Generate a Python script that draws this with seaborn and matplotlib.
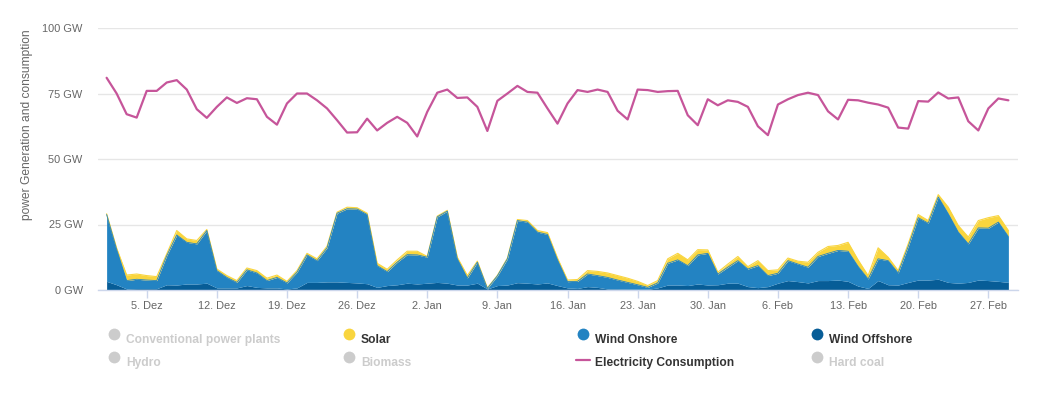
import numpy as np
import pandas as pd
import matplotlib
matplotlib.use("Agg")
import matplotlib.pyplot as plt
import seaborn as sns
from matplotlib.lines import Line2D

# ---------------- data ----------------
dates = pd.date_range("2023-12-01", "2024-02-29", freq="D")

wind_offshore = [3.3, 2.0, 0.4, 0.5, 0.5, 0.5, 2.0, 1.9, 2.3, 2.3,
                 2.6, 0.8, 0.8, 0.8, 1.7, 1.0, 0.8, 0.8, 0.4, 0.8,
                 2.9, 2.9, 3.1, 3.1, 2.9, 2.7, 2.4, 1.0, 1.7, 2.0,
                 2.6, 2.3, 2.6, 2.9, 2.6, 1.9, 1.9, 2.6, 0.4, 1.7,
                 1.9, 2.8, 2.6, 2.3, 2.7, 1.7, 0.8, 0.6, 1.3, 1.0,
                 0.4, 0.4, 0.3, 0.3, 0.3, 0.8, 1.9, 1.9, 1.7, 2.3,
                 1.9, 2.0, 2.6, 2.6, 1.3, 0.9, 1.3, 2.6, 3.6, 3.2,
                 2.7, 3.6, 3.6, 3.8, 3.3, 1.5, 0.6, 3.6, 2.0, 1.9,
                 2.9, 3.8, 3.8, 4.1, 2.9, 2.6, 2.9, 3.8, 3.6, 3.3,
                 2.9]

wind_onshore = [25.5, 13.5, 3.2, 3.6, 3.3, 3.1, 11.1, 19.1, 15.9, 15.3,
                20.1, 6.6, 4.0, 2.1, 6.0, 5.5, 2.8, 4.0, 2.3, 6.0,
                10.5, 8.3, 13.0, 26.2, 28.1, 28.2, 26.4, 8.3, 5.3, 8.6,
                10.9, 11.1, 9.9, 25.0, 27.5, 10.0, 2.7, 8.0, 0.2, 3.7,
                10.0, 23.7, 23.3, 19.8, 18.5, 9.8, 2.4, 2.7, 4.8, 4.5,
                4.4, 3.4, 2.6, 1.7, 0.7, 1.9, 8.3, 9.6, 7.6, 11.1,
                12.1, 4.1, 6.1, 8.6, 6.7, 8.4, 4.2, 3.8, 7.6, 6.7,
                6.0, 9.2, 10.4, 11.3, 11.5, 7.5, 3.6, 8.3, 9.2, 4.6,
                13.7, 23.8, 21.7, 31.4, 26.2, 19.5, 14.7, 19.9, 20.0, 22.6,
                17.5]

solar = [0.3, 0.5, 2.1, 2.0, 1.7, 1.5, 0.7, 1.7, 1.3, 1.3,
         0.4, 0.6, 0.7, 0.7, 0.7, 0.9, 0.9, 0.9, 0.6, 0.6,
         0.6, 0.7, 0.6, 0.4, 0.6, 0.5, 0.5, 0.9, 0.9, 0.9,
         1.3, 1.4, 0.3, 0.3, 0.3, 0.6, 0.9, 0.4, 0.2, 0.2,
         0.3, 0.4, 0.6, 0.6, 0.7, 0.7, 0.6, 0.7, 1.3, 1.6,
         1.7, 1.7, 1.6, 1.3, 0.7, 0.9, 1.7, 2.5, 2.2, 2.0,
         1.3, 0.7, 1.2, 1.6, 0.9, 1.9, 1.9, 1.3, 1.0, 1.1,
         1.9, 1.6, 2.6, 1.9, 3.4, 2.5, 1.3, 4.2, 1.3, 0.9,
         1.0, 1.2, 1.0, 0.9, 2.5, 2.5, 2.6, 2.8, 4.0, 2.5,
         2.3]

consumption = [81.0, 75.0, 67.1, 65.8, 76.0, 76.0, 79.2, 80.1, 76.5, 69.0,
               65.7, 69.9, 73.5, 71.4, 73.2, 72.8, 66.1, 63.1, 71.2, 75.0,
               75.0, 72.4, 69.3, 64.8, 60.1, 60.2, 65.4, 60.9, 63.8, 66.1,
               63.8, 58.6, 68.0, 75.3, 76.5, 73.3, 73.5, 69.9, 60.7, 72.2,
               75.0, 77.9, 75.6, 75.3, 69.3, 63.5, 71.2, 76.3, 75.6, 76.5,
               75.6, 68.4, 65.1, 76.5, 76.3, 75.6, 75.9, 76.0, 66.7, 62.9,
               72.8, 70.5, 72.4, 71.8, 69.9, 62.5, 59.1, 70.8, 72.8, 74.4,
               75.3, 74.4, 68.2, 65.1, 72.6, 72.4, 71.5, 70.8, 69.6, 62.0,
               61.6, 72.1, 71.9, 75.4, 73.1, 73.5, 64.4, 60.9, 69.3, 73.1,
               72.4]

tick_dates = pd.date_range("2023-12-05", "2024-02-27", freq="7D")
tick_labels = ["5. Dez", "12. Dez", "19. Dez", "26. Dez", "2. Jan", "9. Jan",
               "16. Jan", "23. Jan", "30. Jan", "6. Feb", "13. Feb", "20. Feb",
               "27. Feb"]
y_ticks = [0, 25, 50, 75, 100]
y_tick_labels = ["0 GW", "25 GW", "50 GW", "75 GW", "100 GW"]
y_title = "power Generation and consumption"

legend_names = ["Conventional power plants", "Solar", "Wind Onshore", "Wind Offshore",
                "Hydro", "Biomass", "Electricity Consumption", "Hard coal"]
legend_active = [False, True, True, True, False, False, True, False]

# ---------------- style ----------------
C_OFF = "#075d97"
C_ON = "#2383c2"
C_SOL = "#f9d53e"
C_CONS = "#c6559a"
C_HIDDEN = "#cccccc"
legend_colors = [C_HIDDEN, C_SOL, C_ON, C_OFF, C_HIDDEN, C_HIDDEN, C_CONS, C_HIDDEN]
legend_kind = ["o", "o", "o", "o", "o", "o", "line", "o"]

sns.set_theme(style="white")
plt.rcParams["font.family"] = ["Liberation Sans", "DejaVu Sans"]

W, H = 1051, 395
fig = plt.figure(figsize=(W / 100, H / 100), dpi=100)
ax = fig.add_axes([98 / W, 1 - 290 / H, 920 / W, 262 / H])

ax.stackplot(dates, wind_offshore, wind_onshore, solar,
             colors=[C_OFF, C_ON, C_SOL], linewidth=0)
top_on = np.array(wind_offshore) + np.array(wind_onshore)
top_all = top_on + np.array(solar)
ax.plot(dates, top_all, color=C_SOL, linewidth=0.8)
ax.plot(dates, top_on, color=C_ON, linewidth=0.6)

sns.lineplot(x=dates, y=consumption, ax=ax, color=C_CONS, linewidth=1.6)

ax.set_ylim(0, 100)
ax.set_xlim(dates[0] - pd.Timedelta(hours=0.86 * 24), dates[-1] + pd.Timedelta(hours=0.96 * 24))

ax.set_yticks(y_ticks)
ax.set_yticklabels(y_tick_labels)
ax.set_xticks(tick_dates)
ax.set_xticklabels(tick_labels)
ax.set_xlabel("")
ax.set_ylabel("")

ax.yaxis.grid(True, color="#e6e6e6", linewidth=1)
ax.xaxis.grid(False)
ax.set_axisbelow(True)
for s in ["top", "right", "left"]:
    ax.spines[s].set_visible(False)
ax.spines["bottom"].set_color("#ccd6eb")
ax.spines["bottom"].set_linewidth(1)
ax.spines["bottom"].set_zorder(5)

ax.tick_params(axis="y", length=0, pad=11, labelsize=7.9, labelcolor="#666666")
ax.tick_params(axis="x", direction="out", length=5.8, width=1, color="#ccd6eb",
               pad=1.8, labelsize=7.9, labelcolor="#666666", bottom=True)

fig.text(27 / W, 1 - 125 / H, y_title, rotation=90, ha="center", va="center",
         fontsize=8.64, color="#666666")

# ---------------- legend (Highcharts-style, 2 rows x 4 columns) ----------------
col_x = [114, 349, 583, 817]
row_marker_y = [334, 357]
row_text_y = [340, 363]
for i, name in enumerate(legend_names):
    r, c = divmod(i, 4)
    mx = col_x[c]
    col = legend_colors[i]
    if legend_kind[i] == "line":
        fig.add_artist(Line2D([(mx - 7) / W, (mx + 7) / W],
                              [1 - (row_text_y[r] - 3) / H, 1 - (row_text_y[r] - 3) / H],
                              color=col, linewidth=1.6, transform=fig.transFigure))
    else:
        fig.add_artist(Line2D([mx / W], [1 - row_marker_y[r] / H], marker="o",
                              markersize=8.5, color=col, markeredgewidth=0,
                              linestyle="none", transform=fig.transFigure))
    fig.text((mx + 12) / W, 1 - row_text_y[r] / H, name, ha="left", va="center",
             fontsize=8.64, fontweight="bold",
             color="#333333" if legend_active[i] else C_HIDDEN)

fig.savefig("out.png", dpi=100)
